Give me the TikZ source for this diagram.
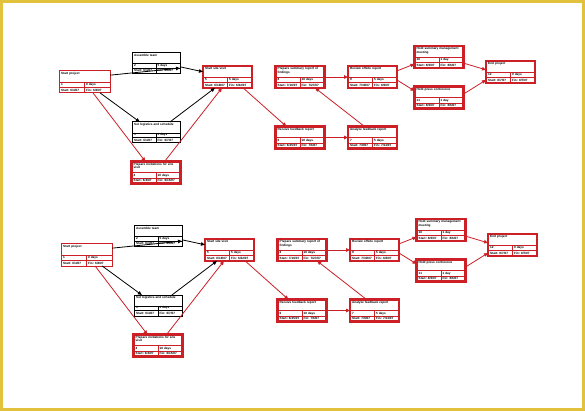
\documentclass[tikz,border=0pt]{standalone}
\usepackage{fontspec}
\setmainfont{Liberation Sans}
\usepackage{xcolor}
\usetikzlibrary{arrows.meta, calc}

\definecolor{pertred}{HTML}{CC1F26}
\definecolor{frameyellow}{HTML}{E2C13C}

% one task box: name, centre, box style, title, id, duration, start, finish
\newcommand{\tasknode}[8]{%
  \node[#3] (#1) at (#2) {};
  \draw[#3 rule] ([yshift=-11pt]#1.north west) -- ([yshift=-11pt]#1.north east);
  \draw[#3 rule] ([yshift=5.5pt]#1.south west) -- ([yshift=5.5pt]#1.south east);
  \draw[#3 rule] ([yshift=-11pt]#1.north) -- (#1.south);
  \node[tasktext, anchor=north west, text width=44pt] (#1-title) at ([xshift=2pt,yshift=-1.5pt]#1.north west) {#4};
  \node[tasktext, anchor=west] (#1-id) at ([xshift=2pt,yshift=8.25pt]#1.south west) {#5};
  \node[tasktext, anchor=west] (#1-dur) at ([xshift=1.5pt,yshift=8.25pt]#1.south) {#6};
  \node[tasktext, anchor=west] (#1-start) at ([xshift=2pt,yshift=2.75pt]#1.south west) {#7};
  \node[tasktext, anchor=west] (#1-finish) at ([xshift=1.5pt,yshift=2.75pt]#1.south) {#8};
}

\begin{document}
\begin{tikzpicture}[
    x=1pt, y=-1pt,
    critbox/.style={rectangle, draw=pertred, line width=2.2pt, minimum width=49pt, minimum height=22pt, outer sep=0pt, inner sep=0pt, fill=white},
    critbox rule/.style={pertred, line width=0.8pt},
    startbox/.style={rectangle, draw=pertred, line width=1pt, minimum width=51pt, minimum height=22pt, outer sep=0pt, inner sep=0pt, fill=white},
    startbox rule/.style={pertred, line width=0.8pt},
    plainbox/.style={rectangle, draw=black, line width=1pt, minimum width=48pt, minimum height=21pt, outer sep=0pt, inner sep=0pt, fill=white},
    plainbox rule/.style={black, line width=0.8pt},
    tasktext/.style={inner sep=0pt, align=left, font=\fontsize{3.1}{3.5}\selectfont\bfseries},
    plainarrow/.style={-{Triangle[length=4pt,width=3.5pt]}, black, line width=0.8pt},
    critarrow/.style={-{Triangle[length=4pt,width=3.5pt]}, pertred, line width=0.8pt}
]

% === Frame ===
\useasboundingbox (0,0) rectangle (585,411);
\fill[frameyellow] (0,0) rectangle (585,411);
\fill[white] (3,3) rectangle (582,408);

% === Two copies of the network ===
\foreach \p/\dx/\dy in {t/0/0, b/2/173} {
\begin{scope}[shift={(\dx,\dy)}]
  % tasks
  \tasknode{\p-start}{84.5,82}{startbox}{Start project}{1}{0 days}{Start: 6/4/07}{Fin: 6/4/07}
  \tasknode{\p-team}{156,63}{plainbox}{Assemble team}{2}{5 days}{Start: 6/4/07}{Fin: 6/8/07}
  \tasknode{\p-logistics}{156,132.5}{plainbox}{Set logistics and schedule}{3}{4 days}{Start: 6/4/07}{Fin: 6/7/07}
  \tasknode{\p-invite}{156,172.5}{critbox}{Prepare invitations for site visit}{4}{10 days}{Start: 6/4/07}{Fin: 6/15/07}
  \tasknode{\p-visit}{227.5,77}{critbox}{Start site visit}{5}{5 days}{Start: 6/18/07}{Fin: 6/22/07}
  \tasknode{\p-receive}{300,137.5}{critbox}{Receive feedback report}{6}{10 days}{Start: 6/25/07}{Fin: 7/6/07}
  \tasknode{\p-analyze}{372.5,137.5}{critbox}{Analyze feedback report}{7}{5 days}{Start: 7/9/07}{Fin: 7/13/07}
  \tasknode{\p-summary}{300,77}{critbox}{Prepare summary report of findings}{8}{10 days}{Start: 7/16/07}{Fin: 7/27/07}
  \tasknode{\p-review}{372.5,77}{critbox}{Review offsite report}{9}{5 days}{Start: 7/30/07}{Fin: 8/3/07}
  \tasknode{\p-meeting}{439,57}{critbox}{Hold summary management meeting}{10}{1 day}{Start: 8/6/07}{Fin: 8/6/07}
  \tasknode{\p-press}{439,97.5}{critbox}{Hold press conference}{11}{1 day}{Start: 8/6/07}{Fin: 8/6/07}
  \tasknode{\p-end}{510.5,72}{critbox}{End project}{12}{0 days}{Start: 8/7/07}{Fin: 8/7/07}

  % links
  \draw[plainarrow] (\p-start.15) -- (\p-team.-12);
  \draw[plainarrow] (\p-start.-35) -- (\p-logistics.147);
  \draw[plainarrow] (\p-team.-9) -- (\p-visit.168);
  \draw[plainarrow] (\p-logistics.37) -- (\p-visit.-139);
  \draw[critarrow] (\p-start.-52) -- (\p-invite.134);
  \draw[critarrow] (\p-invite.52) -- (\p-visit.-117);
  \draw[critarrow] (\p-visit.-35) -- (\p-receive.141);
  \draw[critarrow] (\p-receive.east) -- (\p-analyze.west);
  \draw[critarrow] (\p-analyze.126) -- (\p-summary.-36);
  \draw[critarrow] (\p-summary.east) -- (\p-review.west);
  \draw[critarrow] (\p-review.14) -- (\p-meeting.-164);
  \draw[critarrow] (\p-review.-7) -- (\p-press.165);
  \draw[critarrow] (\p-meeting.-14) -- (\p-end.175);
  \draw[critarrow] (\p-press.8) -- (\p-end.-162);
\end{scope}
}

\end{tikzpicture}
\end{document}
